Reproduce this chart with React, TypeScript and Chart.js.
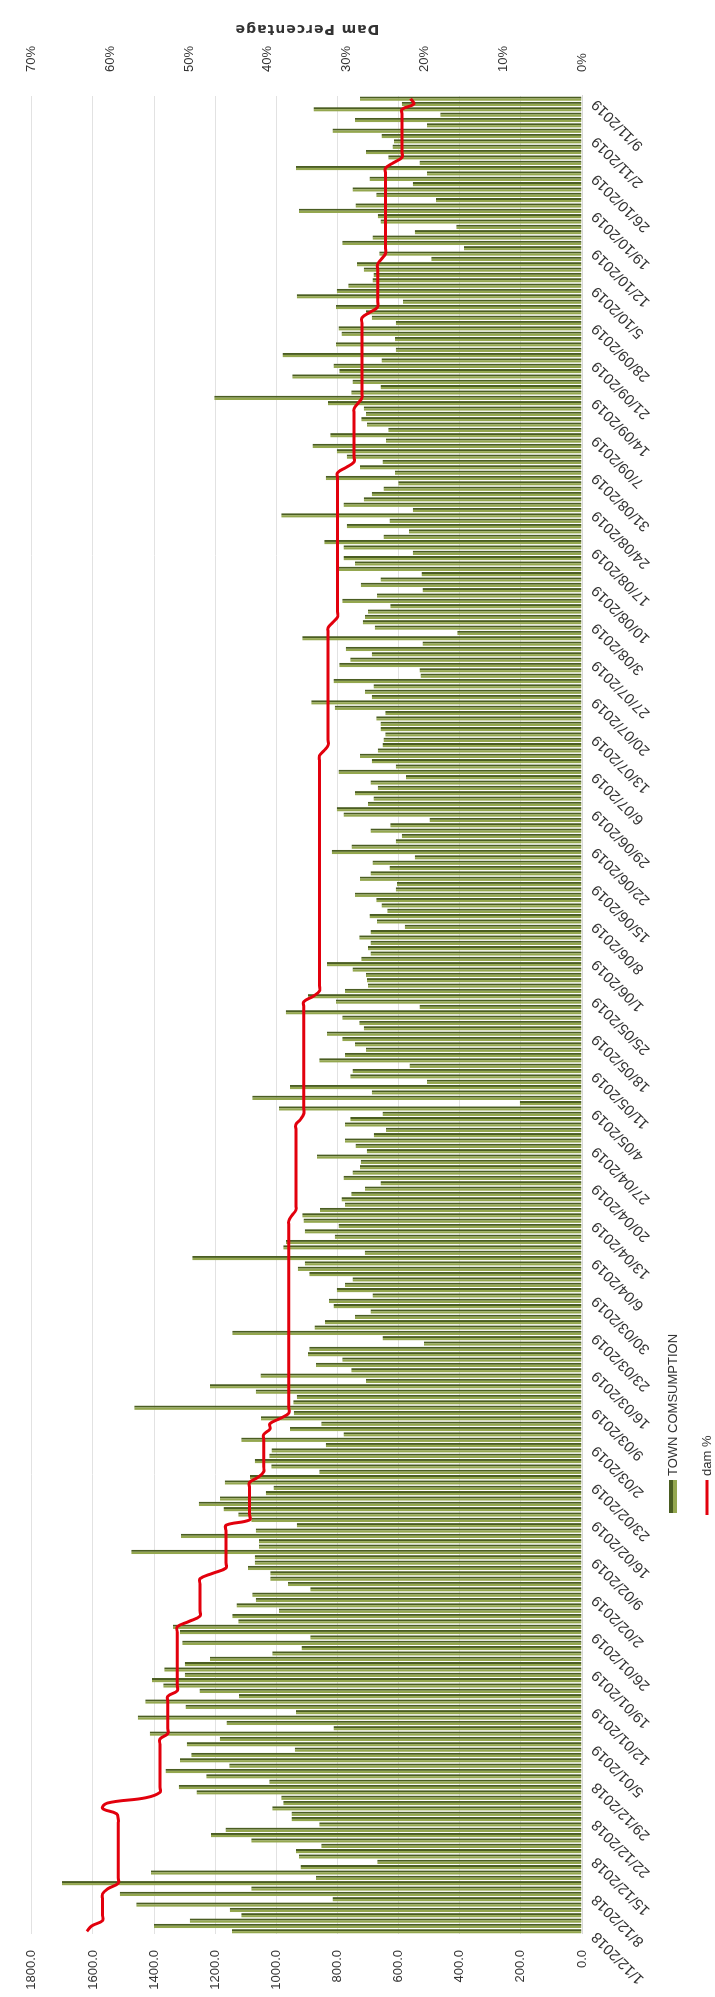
import React, { useEffect, useRef } from 'react';
import { Chart, registerables } from 'chart.js';

Chart.register(...registerables);

// Weekly tick labels on the date axis (every 7th day)
const TICK_LABELS = [
  '1/12/2018', '8/12/2018', '15/12/2018', '22/12/2018', '29/12/2018',
  '5/01/2019', '12/01/2019', '19/01/2019', '26/01/2019',
  '2/02/2019', '9/02/2019', '16/02/2019', '23/02/2019',
  '2/03/2019', '9/03/2019', '16/03/2019', '23/03/2019', '30/03/2019',
  '6/04/2019', '13/04/2019', '20/04/2019', '27/04/2019',
  '4/05/2019', '11/05/2019', '18/05/2019', '25/05/2019',
  '1/06/2019', '8/06/2019', '15/06/2019', '22/06/2019', '29/06/2019',
  '6/07/2019', '13/07/2019', '20/07/2019', '27/07/2019',
  '3/08/2019', '10/08/2019', '17/08/2019', '24/08/2019', '31/08/2019',
  '7/09/2019', '14/09/2019', '21/09/2019', '28/09/2019',
  '5/10/2019', '12/10/2019', '19/10/2019', '26/10/2019',
  '2/11/2019', '9/11/2019',
];

// Daily categories 1/12/2018 .. 9/11/2019
const FIRST_DAY = { year: 2018, month: 11, day: 1 };
const DAY_COUNT = 344;
const CATEGORIES: string[] = [];
for (let i = 0; i < DAY_COUNT; i++) {
  const d = new Date(Date.UTC(FIRST_DAY.year, FIRST_DAY.month, FIRST_DAY.day + i));
  const mm = String(d.getUTCMonth() + 1).padStart(2, '0');
  CATEGORIES.push(`${d.getUTCDate()}/${mm}/${d.getUTCFullYear()}`);
}

// TOWN COMSUMPTION (left axis)
const TOWN_CONSUMPTION = [
  1145, 1400, 1283, 1115, 1152, 1458, 816, 1512, 1082, 1701,
  870, 1410, 921, 670, 926, 936, 853, 1082, 1214, 1166,
  860, 950, 950, 1013, 977, 984, 1261, 1319, 1023, 1229,
  1363, 1154, 1315, 1278, 940, 1293, 1185, 1414, 813, 1163,
  1453, 936, 1297, 1429, 1122, 1251, 1370, 1407, 1300, 1367,
  1300, 1217, 1013, 918, 1308, 889, 1315, 1338, 1125, 1144,
  991, 1130, 1067, 1079, 889, 962, 1020, 1020, 1093, 1071,
  1071, 1475, 1057, 1057, 1312, 1067, 933, 1082, 1125, 1173,
  1254, 1184, 1035, 1009, 1169, 1086, 860, 1017, 1071, 1023,
  1016, 838, 1115, 780, 955, 853, 1050, 943, 1465, 945,
  933, 1067, 1217, 707, 1052, 755, 870, 784, 896, 892,
  517, 653, 1144, 875, 841, 743, 692, 813, 828, 685,
  802, 775, 751, 892, 930, 907, 1275, 711, 977, 968,
  809, 907, 797, 911, 915, 857, 775, 787, 755, 710,
  659, 780, 751, 726, 724, 867, 704, 741, 775, 681,
  641, 775, 758, 653, 991, 204, 1079, 688, 955, 507,
  758, 751, 564, 860, 775, 707, 743, 784, 834, 714,
  729, 784, 969, 532, 805, 896, 775, 700, 703, 707,
  751, 834, 722, 692, 700, 692, 729, 692, 580, 671,
  695, 637, 656, 673, 743, 609, 605, 726, 692, 630,
  685, 547, 819, 754, 609, 590, 692, 627, 499, 780,
  802, 700, 682, 743, 668, 692, 576, 797, 609, 688,
  726, 668, 653, 649, 644, 659, 659, 673, 644, 809,
  886, 688, 710, 682, 813, 528, 532, 794, 758, 688,
  773, 522, 915, 408, 678, 717, 710, 700, 627, 784,
  671, 522, 724, 659, 525, 797, 743, 780, 554, 780,
  843, 649, 566, 770, 630, 984, 554, 780, 714, 688,
  649, 601, 838, 612, 726, 653, 770, 802, 882, 641,
  824, 634, 703, 722, 707, 714, 831, 1203, 755, 659,
  751, 948, 794, 813, 656, 980, 609, 805, 612, 787,
  797, 609, 688, 707, 805, 586, 933, 802, 765, 685,
  682, 714, 736, 493, 663, 386, 784, 685, 547, 411,
  659, 668, 926, 741, 478, 673, 751, 554, 695, 507,
  936, 532, 634, 707, 620, 615, 656, 816, 507, 743,
  464, 878, 590, 726,
];

// dam % (right axis)
const DAM_PERCENT = [
  63.0, 62.4, 61.0, 61.0, 61.0, 61.0, 61.0, 61.0, 60.3, 59.0,
  59.0, 59.0, 59.0, 59.0, 59.0, 59.0, 59.0, 59.0, 59.0, 59.0,
  59.0, 59.0, 59.2, 61.0, 60.4, 55.5, 53.7, 53.7, 53.7, 53.7,
  53.7, 53.7, 53.7, 53.7, 53.7, 53.7, 53.7, 52.7, 52.7, 52.7,
  52.7, 52.7, 52.7, 52.7, 52.7, 51.5, 51.5, 51.5, 51.5, 51.5,
  51.5, 51.5, 51.5, 51.5, 51.5, 51.5, 51.5, 51.5, 50.0, 48.6,
  48.6, 48.6, 48.6, 48.6, 48.6, 48.6, 48.6, 47.0, 45.3, 45.3,
  45.3, 45.3, 45.3, 45.3, 45.3, 45.3, 45.3, 42.3, 42.3, 42.3,
  42.3, 42.3, 42.3, 42.3, 42.3, 41.2, 40.5, 40.5, 40.5, 40.5,
  40.5, 40.5, 40.5, 40.5, 39.7, 39.7, 38.4, 37.3, 37.3, 37.3,
  37.3, 37.3, 37.3, 37.3, 37.3, 37.3, 37.3, 37.3, 37.3, 37.3,
  37.3, 37.3, 37.3, 37.3, 37.3, 37.3, 37.3, 37.3, 37.3, 37.3,
  37.3, 37.3, 37.3, 37.3, 37.3, 37.3, 37.3, 37.3, 37.3, 37.3,
  37.3, 37.3, 37.3, 37.3, 36.9, 36.4, 36.4, 36.4, 36.4, 36.4,
  36.4, 36.4, 36.4, 36.4, 36.4, 36.4, 36.4, 36.4, 36.4, 36.4,
  36.4, 36.4, 35.8, 35.4, 35.4, 35.4, 35.4, 35.4, 35.4, 35.4,
  35.4, 35.4, 35.4, 35.4, 35.4, 35.4, 35.4, 35.4, 35.4, 35.4,
  35.4, 35.4, 35.4, 35.4, 35.4, 34.2, 33.4, 33.4, 33.4, 33.4,
  33.4, 33.4, 33.4, 33.4, 33.4, 33.4, 33.4, 33.4, 33.4, 33.4,
  33.4, 33.4, 33.4, 33.4, 33.4, 33.4, 33.4, 33.4, 33.4, 33.4,
  33.4, 33.4, 33.4, 33.4, 33.4, 33.4, 33.4, 33.4, 33.4, 33.4,
  33.4, 33.4, 33.4, 33.4, 33.4, 33.4, 33.4, 33.4, 33.4, 33.4,
  33.4, 32.8, 32.3, 32.3, 32.3, 32.3, 32.3, 32.3, 32.3, 32.3,
  32.3, 32.3, 32.3, 32.3, 32.3, 32.3, 32.3, 32.3, 32.3, 32.3,
  32.3, 32.3, 32.3, 32.3, 32.3, 31.7, 31.1, 31.1, 31.1, 31.1,
  31.1, 31.1, 31.1, 31.1, 31.1, 31.1, 31.1, 31.1, 31.1, 31.1,
  31.1, 31.1, 31.1, 31.1, 31.1, 31.1, 31.1, 31.1, 31.1, 31.1,
  31.1, 31.1, 31.1, 31.1, 30.0, 29.0, 29.0, 29.0, 29.0, 29.0,
  29.0, 29.0, 29.0, 29.0, 29.0, 29.0, 28.5, 28.0, 28.0, 28.0,
  28.0, 28.0, 28.0, 28.0, 28.0, 28.0, 28.0, 28.0, 28.0, 28.0,
  28.0, 28.0, 28.0, 27.0, 26.0, 26.0, 26.0, 26.0, 26.0, 26.0,
  26.0, 26.0, 26.0, 25.5, 25.0, 25.0, 25.0, 25.0, 25.0, 25.0,
  25.0, 25.0, 25.0, 25.0, 25.0, 25.0, 25.0, 25.0, 25.0, 25.0,
  25.0, 24.0, 22.9, 22.9, 22.9, 22.9, 22.9, 22.9, 22.9, 22.9,
  22.9, 22.9, 21.4, 21.8,
];

const LEFT_TICKS = { min: 0, max: 1800, step: 200 };
const RIGHT_TICKS = { min: 0, max: 70, step: 10 };
const RIGHT_AXIS_TITLE = 'Dam Percentage';
const SERIES_BAR = 'TOWN COMSUMPTION';
const SERIES_LINE = 'dam %';

const BAR_FILL = '#94a74f';
const BAR_EDGE = '#4a5d22';
const LINE_RED = '#e2000d';
const TEXT = '#333333';

const W = 1997;
const H = 715;

const decorPlugin = {
  id: 'decor',
  afterDraw(chart: any) {
    const ctx = chart.ctx as any;
    const area = chart.chartArea;
    ctx.save();
    // right axis title, reading bottom-to-top
    ctx.translate(1968, (area.top + area.bottom) / 2);
    ctx.rotate(-Math.PI / 2);
    ctx.font = 'bold 14px "DejaVu Sans"';
    try { ctx.letterSpacing = '1px'; } catch (e) { /* ignore */ }
    ctx.fillStyle = TEXT;
    ctx.textAlign = 'center';
    ctx.textBaseline = 'middle';
    ctx.fillText(RIGHT_AXIS_TITLE, 0, 0);
    ctx.restore();

    // legend (two stacked rows)
    ctx.save();
    const lx = 484;
    ctx.fillStyle = BAR_FILL;
    ctx.fillRect(lx, 669, 33, 8);
    ctx.fillStyle = BAR_EDGE;
    ctx.fillRect(lx, 669, 33, 4);
    ctx.strokeStyle = LINE_RED;
    ctx.lineWidth = 3;
    ctx.beginPath();
    ctx.moveTo(lx - 2, 707);
    ctx.lineTo(lx + 33, 707);
    ctx.stroke();
    ctx.font = '13px "Liberation Sans"';
    ctx.fillStyle = TEXT;
    ctx.textAlign = 'left';
    ctx.textBaseline = 'middle';
    ctx.fillText(SERIES_BAR, lx + 37, 673);
    ctx.fillText(SERIES_LINE, lx + 37, 707);
    ctx.restore();
  },
};

export default function App() {
  const canvasRef = useRef<HTMLCanvasElement | null>(null);

  useEffect(() => {
    const canvas = canvasRef.current;
    if (!canvas) return;
    Chart.defaults.font.family = '"Liberation Sans", Arial, sans-serif';
    const chart = new Chart(canvas, {
      data: {
        labels: CATEGORIES,
        datasets: [
          {
            type: 'line',
            label: SERIES_LINE,
            data: DAM_PERCENT,
            yAxisID: 'y2',
            borderColor: LINE_RED,
            backgroundColor: LINE_RED,
            borderWidth: 3,
            pointRadius: 0,
            tension: 0.4,
            order: 0,
          },
          {
            type: 'bar',
            label: SERIES_BAR,
            data: TOWN_CONSUMPTION,
            yAxisID: 'y',
            backgroundColor: BAR_FILL,
            borderColor: BAR_EDGE,
            borderWidth: { top: 0, right: 2, bottom: 0, left: 0 },
            borderSkipped: 'start',
            barPercentage: 0.82,
            categoryPercentage: 1,
            order: 1,
          },
        ],
      } as any,
      options: {
        responsive: false,
        animation: false,
        devicePixelRatio: 1,
        layout: { padding: { top: 15, left: 0, right: 0, bottom: 0 } },
        plugins: { legend: { display: false }, tooltip: { enabled: false } },
        scales: {
          x: {
            grid: { display: false, drawTicks: false },
            border: { display: true, color: '#d9d9d9' },
            ticks: {
              autoSkip: false,
              minRotation: 45,
              maxRotation: 45,
              padding: 6,
              labelOffset: -3,
              color: TEXT,
              font: { size: 15 },
              callback: (_v: any, i: number) => (i % 7 === 0 ? TICK_LABELS[i / 7] : ''),
            },
            afterFit: (s: any) => { s.height = 133; },
          },
          y: {
            position: 'left',
            min: LEFT_TICKS.min,
            max: LEFT_TICKS.max,
            ticks: {
              stepSize: LEFT_TICKS.step,
              padding: 16,
              color: TEXT,
              font: { size: 13 },
              callback: (v: any) => Number(v).toFixed(1),
            },
            grid: { color: '#e2e2e2', drawTicks: false },
            border: { display: false },
            afterFit: (s: any) => { s.width = 63; },
          },
          y2: {
            position: 'right',
            min: RIGHT_TICKS.min,
            max: RIGHT_TICKS.max,
            ticks: {
              stepSize: RIGHT_TICKS.step,
              padding: 24,
              color: TEXT,
              font: { size: 13 },
              callback: (v: any) => `${v}%`,
            },
            grid: { display: false, drawTicks: false },
            border: { display: false },
            afterFit: (s: any) => { s.width = 96; },
          },
        },
      } as any,
      plugins: [decorPlugin],
    });
    return () => chart.destroy();
  }, []);

  return (
    <div style={{ position: 'fixed', left: 0, top: 0, width: 715, height: 1997, overflow: 'hidden', background: '#fff' }}>
      <div
        style={{
          position: 'absolute',
          left: 0,
          top: 0,
          width: W,
          height: H,
          transformOrigin: '0 0',
          transform: `translate(0px, ${W}px) rotate(-90deg)`,
        }}
      >
        <canvas ref={canvasRef} width={W} height={H} style={{ display: 'block', width: W, height: H }} />
      </div>
    </div>
  );
}
